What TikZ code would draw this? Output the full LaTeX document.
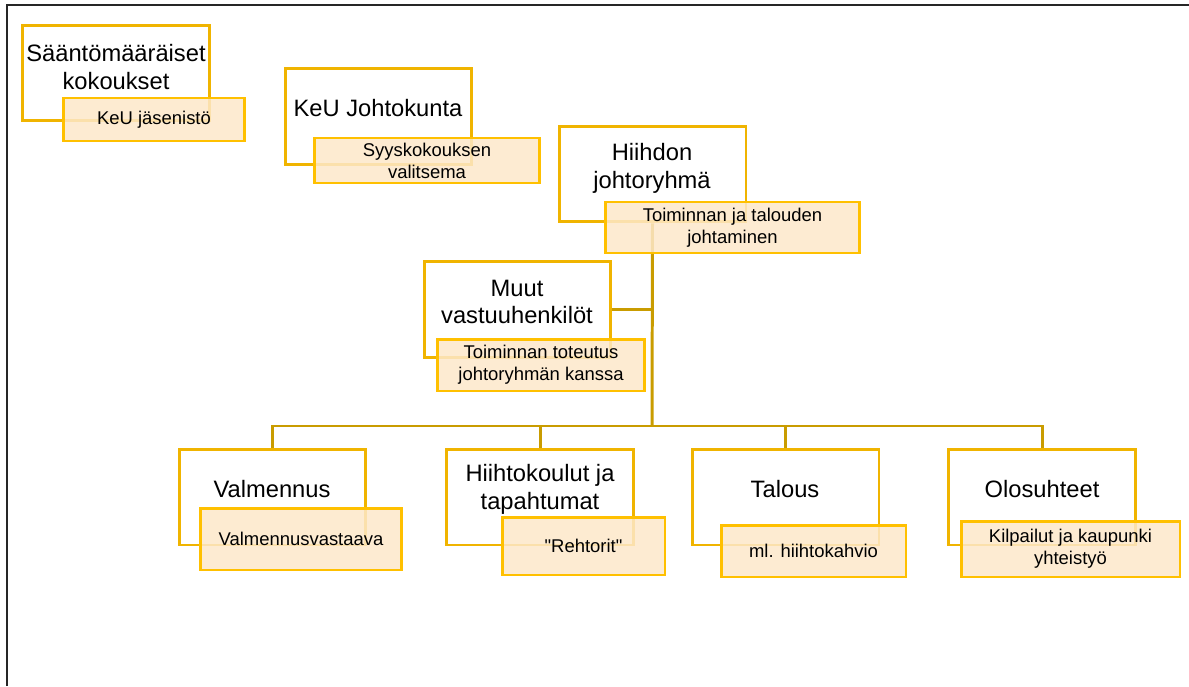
\documentclass[tikz,border=0pt]{standalone}
\usepackage{fontspec}
\setmainfont{Liberation Sans}
\usetikzlibrary{positioning}
\definecolor{boxgold}{RGB}{240,180,0}
\definecolor{subgold}{RGB}{255,192,0}
\definecolor{linegold}{RGB}{201,156,0}
\definecolor{subfill}{RGB}{253,232,202}
\tikzset{
  mainbox/.style={draw=boxgold, line width=1.7pt, fill=white, inner sep=0pt,
    minimum width=3.74cm, minimum height=1.92cm},
  subbox/.style={draw=subgold, line width=1.7pt, fill=subfill, fill opacity=0.85,
    text opacity=1, inner sep=0pt, align=center,
    font=\fontsize{10.5}{12.5}\selectfont},
  maintext/.style={align=center, inner sep=0pt, font=\fontsize{13.5}{15.8}\selectfont},
  conn/.style={draw=linegold, line width=1.7pt}
}
\begin{document}
\begin{tikzpicture}[x=0.02cm,y=-0.02cm]
  \useasboundingbox (0,0) rectangle (1189,686);
  \draw[line width=1.2pt, black!85] (7,686) -- (7,5) -- (1189,5);

  % boxes
  \node[mainbox] (kok) at (116,73) {};
  \node[maintext] (kokt) at (116,67) {Sääntömääräiset\\kokoukset};
  \node[mainbox] (joh) at (378.5,116.5) {};
  \node[maintext] (joht) at (378,108) {KeU Johtokunta};
  \node[mainbox] (hiih) at (652.5,174) {};
  \node[maintext] (hiiht) at (652,168) {Hiihdon\\johtoryhmä};
  \node[mainbox] (muut) at (517.5,309.5) {};
  \node[maintext] (muutt) at (517,302) {Muut\\vastuuhenkilöt};
  \node[mainbox] (valm) at (272.5,497) {};
  \node[maintext] (valmt) at (272,489) {Valmennus};
  \node[mainbox] (koul) at (540,497) {};
  \node[maintext] (koult) at (540,489) {Hiihtokoulut ja\\tapahtumat};
  \node[mainbox] (tal) at (785.5,497) {};
  \node[maintext] (talt) at (785,489) {Talous};
  \node[mainbox] (olo) at (1042,497) {};
  \node[maintext] (olot) at (1042,489) {Olosuhteet};

  % connectors
  \coordinate (bar) at (652,426);
  \draw[conn] (hiih.south) -- (bar);
  \draw[conn] (muut.east) -- (muut.east -| bar);
  \draw[conn] (valm.north) |- (bar) -| (olo.north);
  \draw[conn] (koul.north) -- (koul.north |- bar);
  \draw[conn] (tal.north) -- (tal.north |- bar);

  % sub boxes
  \node[subbox, minimum width=3.64cm, minimum height=0.86cm] (kokx) at (154,119.5) {KeU jäsenistö};
  \node[subbox, minimum width=4.52cm, minimum height=0.9cm] (johx) at (427,160.5) {Syyskokouksen\\valitsema};
  \node[subbox, minimum width=5.1cm, minimum height=1.02cm] (hiihx) at (732.5,227.5) {Toiminnan ja talouden\\johtaminen};
  \node[subbox, minimum width=4.16cm, minimum height=1.04cm] (muutx) at (541,365) {Toiminnan toteutus\\johtoryhmän kanssa};
  \node[subbox, minimum width=4.04cm, minimum height=1.24cm] (valmx) at (301,539) {Valmennusvastaava};
  \node[subbox, minimum width=3.26cm, minimum height=1.16cm] (koulx) at (583.5,546) {\textquotedbl Rehtorit\textquotedbl};
  \node[subbox, minimum width=3.7cm, minimum height=1.04cm] (talx) at (813.5,551) {ml. hiihtokahvio};
  \node[subbox, minimum width=4.38cm, minimum height=1.12cm] (olox) at (1070.5,549) {Kilpailut ja kaupunki\\yhteistyö};
\end{tikzpicture}
\end{document}
